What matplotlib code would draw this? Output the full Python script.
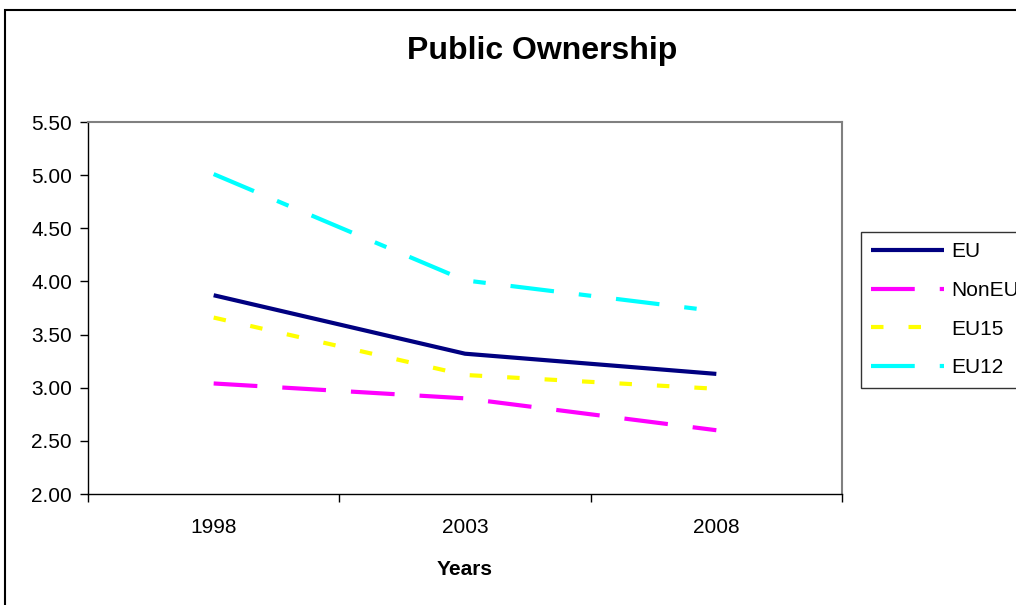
import matplotlib
matplotlib.use("Agg")
import matplotlib.pyplot as plt
from matplotlib.patches import Rectangle

years = ["1998", "2003", "2008"]
eu = [3.87, 3.32, 3.13]
non_eu = [3.04, 2.90, 2.60]
eu15 = [3.66, 3.12, 2.99]
eu12 = [5.01, 4.01, 3.72]
yticks = [2.00, 2.50, 3.00, 3.50, 4.00, 4.50, 5.00, 5.50]

plt.rcParams['font.family'] = ['Liberation Sans', 'DejaVu Sans']

W, H = 1016, 605
fig = plt.figure(figsize=(W / 100, H / 100), dpi=100)
ax = fig.add_axes([88 / W, 1 - 494 / H, (842 - 88) / W, (494 - 122) / H])

x = list(range(len(years)))
lw = 3.0
ax.plot(x, eu, color='#000080', lw=lw, solid_capstyle='butt', label='EU')
ax.plot(x, non_eu, color='#FF00FF', lw=lw, dashes=(10.5, 6), dash_capstyle='butt', label='NonEU')
ax.plot(x, eu15, color='#FFFF00', lw=lw, dashes=(3, 6), dash_capstyle='butt', label='EU15')
ax.plot(x, eu12, color='#00FFFF', lw=lw, dashes=(10.5, 6, 3, 6), dash_capstyle='butt', label='EU12')

ax.set_xlim(-0.5, len(years) - 0.5)
ax.set_ylim(2.0, 5.5)
ax.set_yticks(yticks)
ax.set_yticklabels([f"{v:.2f}" for v in yticks], fontsize=15)
ax.tick_params(axis='y', direction='out', length=6, width=1, pad=5.5)

ax.set_xticks([i - 0.5 for i in range(len(years) + 1)])
ax.set_xticklabels([])
ax.tick_params(axis='x', which='major', direction='out', length=6, width=1)
ax.set_xticks(x, minor=True)
ax.set_xticklabels(years, minor=True, fontsize=15)
ax.tick_params(axis='x', which='minor', length=0, pad=17)

for s in ['top', 'right']:
    ax.spines[s].set_color('#808080')
    ax.spines[s].set_linewidth(1.5)
for s in ['left', 'bottom']:
    ax.spines[s].set_color('black')
    ax.spines[s].set_linewidth(1)

ax.set_xlabel('Years', fontsize=15, fontweight='bold', labelpad=17)
fig.text(542 / W, 1 - 51 / H, 'Public Ownership', fontsize=23, fontweight='bold',
         ha='center', va='center')

leg = fig.legend(loc='upper left', bbox_to_anchor=(861 / W, 1 - 232 / H),
                 fontsize=15, frameon=True, fancybox=False, edgecolor='black',
                 handlelength=3.5, handletextpad=0.34, labelspacing=0.94,
                 borderpad=0.5, borderaxespad=0)
leg.get_frame().set_linewidth(1)

fig.patches.append(Rectangle((5 / W, -0.05), 1.1, 1 - 10 / H + 0.05,
                             transform=fig.transFigure, fill=False,
                             edgecolor='black', linewidth=1.5, clip_on=False))

fig.savefig('out.png', dpi=100)
